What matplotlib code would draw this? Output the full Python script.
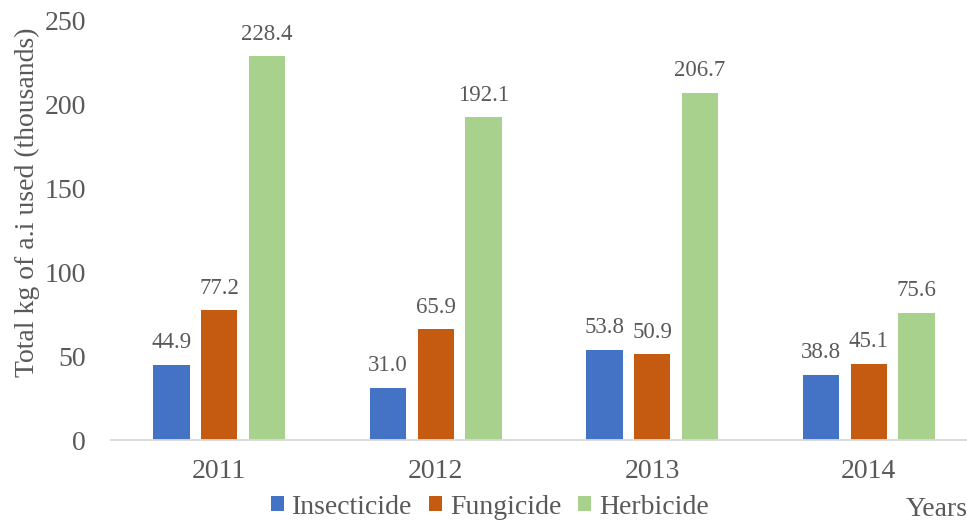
import matplotlib
matplotlib.use("Agg")
import matplotlib.pyplot as plt
import numpy as np

years = ["2011", "2012", "2013", "2014"]
series_names = ["Insecticide", "Fungicide", "Herbicide"]
insecticide = [44.9, 31.0, 53.8, 38.8]
fungicide = [77.2, 65.9, 50.9, 45.1]
herbicide = [228.4, 192.1, 206.7, 75.6]
colors = ["#4472C4", "#C55A11", "#A9D18E"]

plt.rcParams['font.family'] = ['Liberation Serif', 'DejaVu Serif']
txt = "#595959"

fig = plt.figure(figsize=(9.67, 5.21), dpi=100)
ax = fig.add_axes([111/967, 1-440/521, 1-111/967, 420/521])

x = np.arange(len(years))
step = 0.221
width = 0.168
for i, (vals, name, c) in enumerate(zip([insecticide, fungicide, herbicide], series_names, colors)):
    pos = x + (i - 1) * step
    ax.bar(pos, vals, width, color=c, label=name, zorder=2)
    for p, v in zip(pos, vals):
        ax.text(p, v + 7, f"{v:.1f}", ha="center", va="bottom", fontsize=16.5, color=txt)

ax.set_xlim(-0.5, 3.454)
ax.set_ylim(0, 250)
ax.set_yticks([0, 50, 100, 150, 200, 250])
ax.set_xticks(x)
ax.set_xticklabels(years)
for s in ["top", "right", "left"]:
    ax.spines[s].set_visible(False)
ax.spines["bottom"].set_color("#D9D9D9")
ax.spines["bottom"].set_linewidth(1.3)
ax.tick_params(axis="both", length=0, labelsize=20, colors=txt)
ax.tick_params(axis="y", pad=18)
ax.tick_params(axis="x", pad=14)
fig.text(27/967, 1-202/521, "Total kg of a.i used (thousands)", rotation=90,
         ha="center", va="center", fontsize=20, color=txt)

fig.legend(loc="center", bbox_to_anchor=(490/967, 1-507/521), ncol=3, frameon=False,
           fontsize=20, labelcolor=txt, handlelength=0.45, handleheight=0.45,
           handletextpad=0.3, columnspacing=0.6, borderaxespad=0)
fig.text(937/967, 1-509/521, "Years", ha="center", va="center", fontsize=20, color=txt)

fig.savefig("out.png", dpi=100)
